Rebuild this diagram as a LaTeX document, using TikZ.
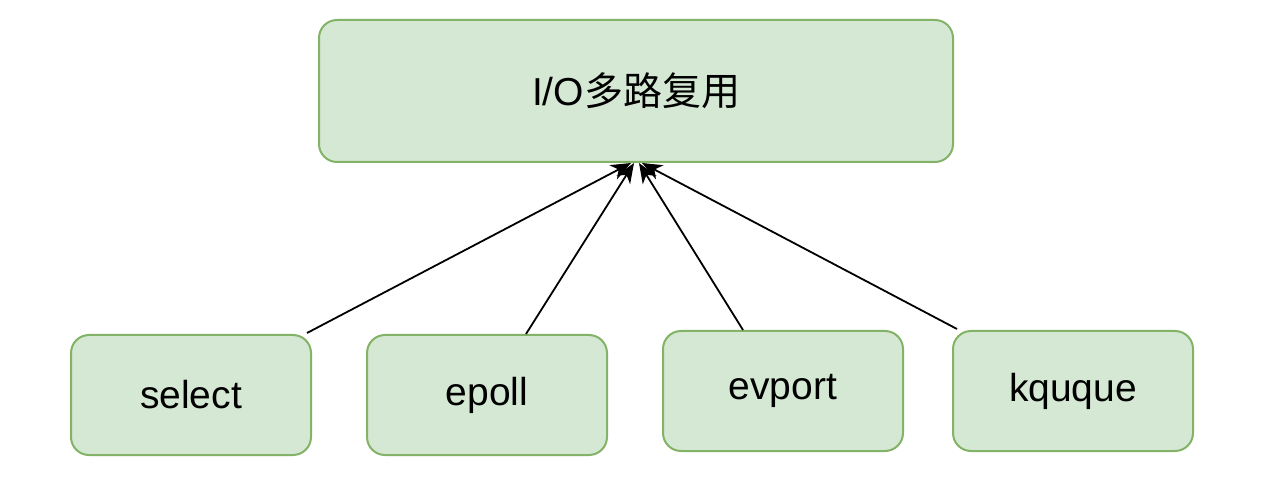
\documentclass[tikz,border=0pt]{standalone}
\usepackage{fontspec}
\setmainfont{Liberation Sans}
\newfontfamily\cjk{Noto Sans CJK SC}
\usetikzlibrary{arrows.meta,calc}
\definecolor{boxfill}{HTML}{D5E8D4}
\definecolor{boxline}{HTML}{82B366}
\begin{document}
\begin{tikzpicture}[x=1pt,y=-1pt,
  box/.style={draw=boxline,fill=boxfill,line width=2pt,rounded corners=18pt,inner sep=0pt,
    font=\fontsize{39}{46}\selectfont},
  conn/.style={line width=1.8pt,-{Stealth[length=20pt,width=16pt,inset=6pt]}}]
\useasboundingbox (0,0) rectangle (1274,502);
\node[box,minimum width=634pt,minimum height=142pt] (top) at (636,91) {I/O{\cjk 多路复用}};
\node[box,minimum width=240pt,minimum height=120pt] (sel) at (191,395) {select};
\node[box,minimum width=240pt,minimum height=120pt] (epo) at (487,395) {epoll};
\node[box,minimum width=240pt,minimum height=120pt] (evp) at (783,391) {evport};
\node[box,minimum width=240pt,minimum height=120pt] (kqu) at (1073,391) {kquque};
\draw[conn] ([xshift=-5pt,yshift=1pt]sel.north east) -- ([xshift=-5pt]top.south);
\draw[conn] ([xshift=39pt]epo.north) -- ([xshift=-2pt]top.south);
\draw[conn] ([xshift=-40pt]evp.north) -- ([xshift=3pt]top.south);
\draw[conn] ([xshift=5pt,yshift=1pt]kqu.north west) -- ([xshift=6pt]top.south);
\end{tikzpicture}
\end{document}
